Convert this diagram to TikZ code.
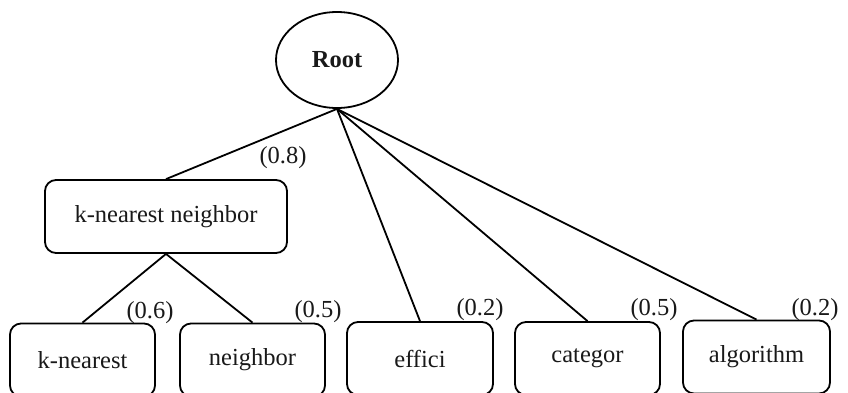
\documentclass[tikz,border=0pt]{standalone}
\usepackage{fontspec}
\usetikzlibrary{shapes.geometric}
\setmainfont{Liberation Serif}[Ligatures=NoCommon]
\newcommand{\hy}{\symbol{"2D}}
\begin{document}
\begin{tikzpicture}[x=1pt,y=-1pt,
  every node/.style={font=\fontsize{24.5}{28}\selectfont, text=black!90},
  termbox/.style={draw, line width=1.8pt, rounded corners=11pt,
    minimum height=73pt, inner sep=0pt},
  weight/.style={inner sep=0pt},
  edge/.style={line width=1.8pt}]
\useasboundingbox (0,0) rectangle (848,392);
\clip (0,0) rectangle (848,392);
\fill[white] (0,0) rectangle (848,392);

% root of the term tree
\node[draw, ellipse, line width=1.8pt, minimum width=122pt, minimum height=96pt,
      inner sep=0pt, font=\fontsize{24.5}{28}\selectfont\bfseries] (root) at (337,60) {Root};

% phrase node
\node[termbox, minimum width=242pt] (knn) at (166,216.5) {k\hy nearest neighbor};

% leaf terms (their lower edge runs below the frame)
\node[termbox, minimum width=145pt] (kn)   at (82.5,360) {k\hy nearest};
\node[termbox, minimum width=145pt] (nb)   at (252.5,360) {neighbor};
\node[termbox, minimum width=146pt] (eff)  at (420,358.5) {effici};
\node[termbox, minimum width=145pt] (cat)  at (587.5,358.5) {categor};
\node[termbox, minimum width=147pt] (alg)  at (756.5,357) {algorithm};

% connectors
\draw[edge] (root.south) -- (knn.north);
\draw[edge] (root.south) -- (eff.north);
\draw[edge] (root.south) -- (cat.north);
\draw[edge] (root.south) -- (alg.north);
\draw[edge] (knn.south) -- (kn.north);
\draw[edge] (knn.south) -- (nb.north);

% weights
\node[weight] (w1) at (283,158) {(0.8)};
\node[weight] (w2) at (150,313) {(0.6)};
\node[weight] (w3) at (318,312) {(0.5)};
\node[weight] (w4) at (480,310) {(0.2)};
\node[weight] (w5) at (654,310) {(0.5)};
\node[weight] (w6) at (815,310) {(0.2)};
\end{tikzpicture}
\end{document}
